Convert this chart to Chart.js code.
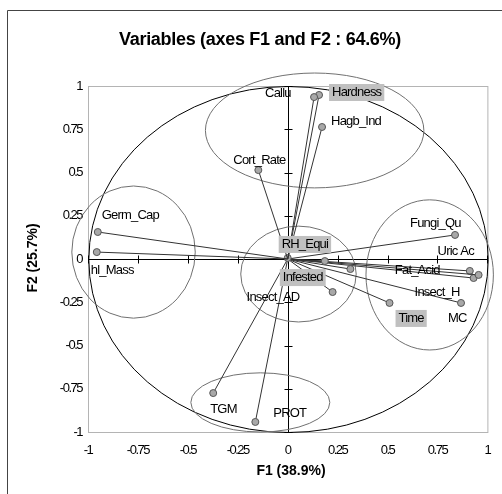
<!DOCTYPE html>
<html>
<head>
<meta charset="utf-8">
<script src="https://cdn.jsdelivr.net/npm/chart.js@4.4.0/dist/chart.umd.min.js"></script>
<style>
  html, body { margin: 0; padding: 0; background: #fff; overflow: hidden; }
  #wrap { width: 502px; height: 494px; position: relative; }
</style>
</head>
<body>
<div id="wrap"><canvas id="pca" width="502" height="494"></canvas></div>
<script>
// variable loadings on F1 / F2
const variables = ['Callu', 'Hardness', 'Hagb_Ind', 'Cort_Rate', 'Germ_Cap', 'hl_Mass', 'RH_Equi', 'Infested', '',
                   'Insect_AD', 'Fungi_Qu', 'Uric Ac', 'Fat_Acid', 'Insect_H', 'MC', 'Time', 'TGM', 'PROT'];
const f1 = [0.132, 0.157, 0.172, -0.147, -0.951, -0.956, 0.000, 0.186, 0.314,
            0.225, 0.838, 0.956, 0.912, 0.931, 0.868, 0.510, -0.373, -0.162];
const f2 = [0.936, 0.948, 0.763, 0.514, 0.156, 0.040, 0.006, -0.012, -0.058,
            -0.191, 0.139, -0.092, -0.069, -0.110, -0.254, -0.254, -0.775, -0.942];
const highlighted = ['Hardness', 'RH_Equi', 'Infested', 'Time'];
const tickLabels = ['-1', '-0.75', '-0.5', '-0.25', '0', '0.25', '0.5', '0.75', '1'];

// hand drawn groups (centre and radii in axis units)
const groupCx = [0.135, -0.772, 0.054, 0.711, -0.137];
const groupCy = [0.743, 0.040, -0.087, -0.092, -0.829];
const groupRx = [0.547, 0.309, 0.289, 0.319, 0.348];
const groupRy = [0.332, 0.382, 0.277, 0.434, 0.171];

const title = 'Variables (axes F1 and F2 : 64.6%)';
const xTitle = 'F1 (38.9%)';
const yTitle = 'F2 (25.7%)';

// where each label sits relative to its point, in px
const labelOffset = {
  'Callu': [-49, -4], 'Hardness': [13, -3], 'Hagb_Ind': [9, -6], 'Cort_Rate': [-25, -10],
  'Germ_Cap': [4, -17], 'hl_Mass': [-6, 18], 'RH_Equi': [-6, -14], 'Infested': [-42, 16],
  'Insect_AD': [-86, 5], 'Fungi_Qu': [-45, -12], 'Uric Ac': [-41, -23], 'Fat_Acid': [-75, -1],
  'Insect_H': [-59, 14], 'MC': [-13, 15], 'Time': [9, 15], 'TGM': [-3, 16], 'PROT': [18, -9]
};

const datasets = variables.map((name, i) => ({
  label: name,
  data: [{ x: 0, y: 0 }, { x: f1[i], y: f2[i] }],
  showLine: true,
  borderColor: '#333',
  borderWidth: 1,
  pointRadius: [0, 3.5],
  pointBackgroundColor: '#a8a8a8',
  pointBorderColor: '#555',
  pointBorderWidth: 1,
  clip: false
}));

const decor = {
  id: 'decor',
  beforeDraw(chart) {
    chart.ctx.letterSpacing = '-1.5px';
  },
  beforeDatasetsDraw(chart) {
    const { ctx, chartArea: a, scales: { x, y } } = chart;
    ctx.save();
    ctx.strokeStyle = '#b4b4b4';
    ctx.lineWidth = 1;
    ctx.strokeRect(a.left + 0.5, a.top + 0.5, a.width, a.height);

    const x0 = Math.round(x.getPixelForValue(0)) + 0.5;
    const y0 = Math.round(y.getPixelForValue(0)) + 0.5;
    ctx.strokeStyle = '#000';
    ctx.beginPath();
    ctx.moveTo(a.left, y0); ctx.lineTo(a.right, y0);
    ctx.moveTo(x0, a.top); ctx.lineTo(x0, a.bottom);
    x.ticks.forEach(t => {
      const px = Math.round(x.getPixelForValue(t.value)) + 0.5;
      ctx.moveTo(px, y0 - 4); ctx.lineTo(px, y0 + 4);
    });
    y.ticks.forEach(t => {
      const py = Math.round(y.getPixelForValue(t.value)) + 0.5;
      ctx.moveTo(x0 - 4, py); ctx.lineTo(x0 + 4, py);
    });
    ctx.stroke();

    // correlation circle
    const ux = x.getPixelForValue(1) - x.getPixelForValue(0);
    const uy = y.getPixelForValue(0) - y.getPixelForValue(1);
    ctx.beginPath();
    ctx.ellipse(x0, y0, ux, uy, 0, 0, Math.PI * 2);
    ctx.stroke();

    ctx.strokeStyle = '#707070';
    groupCx.forEach((cx, i) => {
      ctx.beginPath();
      ctx.ellipse(x.getPixelForValue(cx), y.getPixelForValue(groupCy[i]),
        groupRx[i] * ux, groupRy[i] * uy, 0, 0, Math.PI * 2);
      ctx.stroke();
    });
    ctx.restore();
  },
  afterDatasetsDraw(chart) {
    const { ctx, scales: { x, y } } = chart;
    ctx.save();
    ctx.font = '13px "Liberation Sans"';
    ctx.letterSpacing = '-0.8px';
    ctx.textAlign = 'left';
    ctx.textBaseline = 'middle';
    variables.forEach((name, i) => {
      if (!name) return;
      const off = labelOffset[name];
      const px = x.getPixelForValue(f1[i]) + off[0];
      const py = y.getPixelForValue(f2[i]) + off[1];
      if (highlighted.includes(name)) {
        const w = ctx.measureText(name).width;
        ctx.fillStyle = '#c0c0c0';
        ctx.fillRect(px - 3, py - 8, w + 6, 17);
      }
      ctx.fillStyle = '#000';
      ctx.fillText(name, px, py);
    });

    ctx.textAlign = 'center';
    ctx.letterSpacing = '-0.3px';
    ctx.font = 'bold 18px "Liberation Sans"';
    ctx.fillText(title, 260, 40);
    ctx.letterSpacing = '0px';
    ctx.font = 'bold 14px "Liberation Sans"';
    ctx.fillText(xTitle, 291, 471);
    ctx.translate(33, 258);
    ctx.rotate(-Math.PI / 2);
    ctx.fillText(yTitle, 0, 0);
    ctx.restore();

    // outer frame, runs off the bottom and right of the picture
    ctx.save();
    ctx.strokeStyle = '#444';
    ctx.lineWidth = 1;
    ctx.beginPath();
    ctx.moveTo(7.5, 494); ctx.lineTo(7.5, 10.5); ctx.lineTo(502, 10.5);
    ctx.stroke();
    ctx.restore();
  }
};

const axisTicks = {
  stepSize: 0.25,
  color: '#000',
  font: { family: 'Liberation Sans', size: 13 },
  callback: (v, i) => tickLabels[i]
};

new Chart(document.getElementById('pca'), {
  type: 'scatter',
  data: { datasets },
  options: {
    responsive: false,
    animation: false,
    devicePixelRatio: 1,
    layout: { padding: { top: 86, right: 6, left: 0, bottom: 0 } },
    plugins: { legend: { display: false }, tooltip: { enabled: false } },
    scales: {
      x: {
        min: -1, max: 1,
        grid: { display: false, drawTicks: false },
        border: { display: false },
        ticks: { ...axisTicks, padding: 11, maxRotation: 0 },
        afterFit: s => { s.height = 62; }
      },
      y: {
        min: -1, max: 1,
        grid: { display: false, drawTicks: false },
        border: { display: false },
        ticks: { ...axisTicks, padding: 6 },
        afterFit: s => { s.width = 88; }
      }
    }
  },
  plugins: [decor]
});
</script>
</body>
</html>
